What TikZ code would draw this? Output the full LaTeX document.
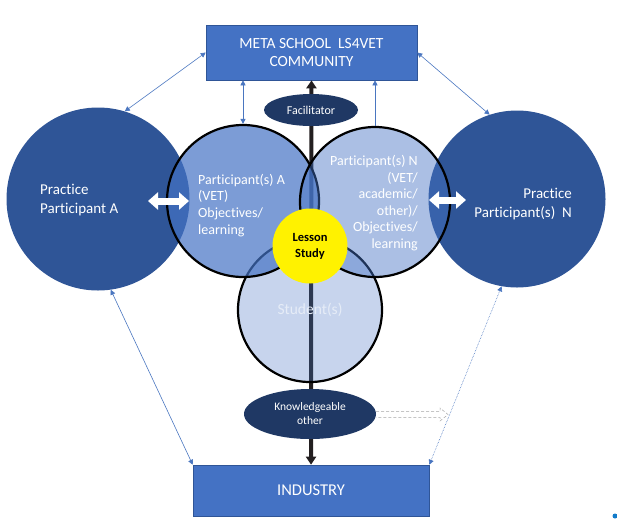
\documentclass[tikz,border=0pt]{standalone}
\usepackage{fontspec}
\setmainfont{Carlito}[Ligatures={NoCommon}]
\usetikzlibrary{arrows.meta,shapes.geometric}
\definecolor{midblue}{HTML}{4472C4}
\definecolor{darkblue}{HTML}{2F5597}
\definecolor{navy}{HTML}{1F3864}
\definecolor{linkblue}{HTML}{4A76C0}
\definecolor{spine}{HTML}{231F20}
\definecolor{studtxt}{HTML}{E6ECF7}
\begin{document}
\begin{tikzpicture}[x=1pt,y=-1pt,
  boxnode/.style={rectangle, fill=midblue, draw=darkblue, line width=0.6pt, inner sep=0pt, text=white},
  bigcirc/.style={circle, fill=darkblue, inner sep=0pt},
  partcirc/.style={circle, fill=midblue, draw=black, line width=2.2pt, inner sep=0pt, text opacity=1},
  ovalnode/.style={ellipse, fill=navy, inner sep=0pt, text=white},
  whitetxt/.style={text=white, inner sep=0pt, font=\fontsize{15}{19}\selectfont},
  link/.style={draw=linkblue, line width=0.6pt, {Triangle[width=5pt,length=5pt]}-{Triangle[width=5pt,length=5pt]}},
  blockarrow/.style={draw=white, line width=7pt, {Triangle[width=17pt,length=10pt]}-{Triangle[width=17pt,length=10pt]}},
]
\useasboundingbox (0,0) rectangle (617,528);
% boxes
\node[boxnode, minimum width=211pt, minimum height=55pt, font=\fontsize{15.5}{18}\selectfont, align=center] (meta) at (311.5,52.5) {META SCHOOL\ \ LS4VET\\COMMUNITY};
\node[boxnode, minimum width=236pt, minimum height=51pt, font=\fontsize{16.5}{18}\selectfont] (ind) at (311,490.5) {INDUSTRY};
% big circles
\node[bigcirc, minimum size=183pt] (lp) at (98,199) {};
\node[bigcirc, minimum size=177pt] (rp) at (517,199) {};
% spine
\draw[spine, line width=4pt, {Triangle[width=10pt,length=8pt]}-{Triangle[width=10pt,length=8pt]}] (ind.north) -- (meta.south);
% participant circles
\node[partcirc, fill opacity=0.3, minimum size=144pt] (st) at (310,310) {};
\node[partcirc, fill opacity=0.7, minimum size=152pt] (pa) at (243,201) {};
\node[partcirc, fill opacity=0.45, minimum size=150pt] (pn) at (375,202) {};
\node[circle, fill=yellow, inner sep=0pt, minimum size=75pt, align=center, font=\bfseries\fontsize{12.5}{16}\selectfont] (ls) at (310,246) {Lesson\\Study};
% ellipses
\node[ovalnode, minimum width=94pt, minimum height=32pt, font=\fontsize{12}{14}\selectfont] (fac) at (311,110) {Facilitator};
\node[ovalnode, minimum width=132pt, minimum height=50pt, align=center, font=\fontsize{11.5}{14}\selectfont] (ko) at (310,414) {Knowledgeable\\other};
% texts
\node[whitetxt, align=left, anchor=west] (tlp) at (40,200.5) {Practice\\Participant A};
\node[whitetxt, align=right, anchor=east] (trp) at (572,204.5) {Practice\\Participant(s)\ \ N};
\node[whitetxt, align=left, anchor=west, font=\fontsize{14}{16.9}\selectfont] (tpa) at (198,205.5) {Participant(s) A\\(VET)\\Objectives/\\learning};
\node[whitetxt, align=right, anchor=east, font=\fontsize{14}{16.5}\selectfont] (tpn) at (418,203) {Participant(s) N\\(VET/\\academic/\\other)/\\Objectives/\\learning};
\node[text=studtxt, inner sep=0pt, font=\fontsize{15.5}{17}\selectfont] (tst) at (310,310) {Student(s)};
% thin links
\draw[link] (lp.73) -- (meta.west);
\draw[link] (rp.108) -- (meta.east);
\draw[link] (pa.north) -- (pa.north |- meta.south);
\draw[draw=linkblue, line width=0.6pt, -{Triangle[width=5pt,length=5pt]}] (pn.north) -- (pn.north |- meta.south);
\draw[link] (lp.278) -- (ind.north west);
\draw[link, densely dotted] (rp.260) -- (ind.north east);
% dashed open block arrow from knowledgeable other
\coordinate (kotip) at (448,414.5);
\draw[gray!70, line width=0.5pt, densely dashed] (ko.east |- 0,411.5) -- (440,411.5) -- (440,408) -- (kotip) -- (440,421) -- (440,417.5) -- (ko.east |- 0,417.5);
% white double arrows
\coordinate (la1) at (148,201);
\coordinate (la2) at (189,201);
\coordinate (ra1) at (429,200);
\coordinate (ra2) at (466,200);
\draw[blockarrow] (la1) -- (la2);
\draw[blockarrow] (ra1) -- (ra2);
% small dot
\fill[cyan!60!blue] (615,516) circle (2.5pt);
\end{tikzpicture}
\end{document}
